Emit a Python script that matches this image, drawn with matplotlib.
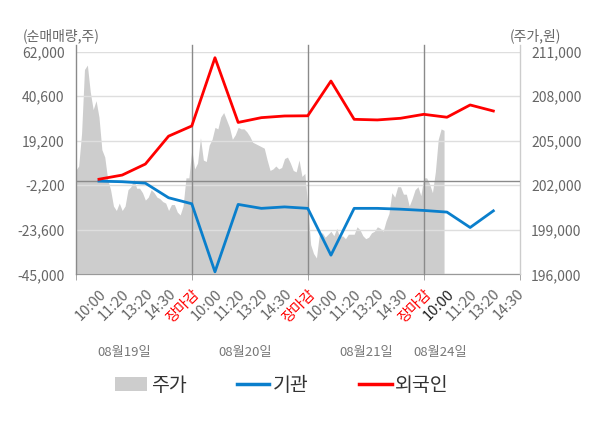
import numpy as np
import matplotlib
matplotlib.use('Agg')
from matplotlib import pyplot as plt
from matplotlib.patches import Patch
from matplotlib.lines import Line2D

plt.rcParams['font.family'] = ['Noto Sans CJK KR', 'DejaVu Sans']

# tick labels (5 slots per trading day, last day partial)
tick_labels = ['10:00', '11:20', '13:20', '14:30', '장마감',
               '10:00', '11:20', '13:20', '14:30', '장마감',
               '10:00', '11:20', '13:20', '14:30', '장마감',
               '10:00', '11:20', '13:20', '14:30']
dates = ['08월19일', '08월20일', '08월21일', '08월24일']

# net buying (shares), one point per tick slot 1..18
foreign = [700, 2700, 8000, 21400, 26300, 59100, 28000, 30300, 31100,
           31200, 47900, 29500, 29200, 30000, 31900, 30500, 36400, 33500]
inst = [-200, -500, -1200, -8200, -11100, -43800, -11400, -13300, -12600,
        -13300, -35800, -13300, -13300, -13700, -14300, -15100, -22500, -14500]

# stock price (won), 8 samples per slot
price = [203000, 203300, 205500, 209800, 210100, 208300, 207100, 207700,
         206600, 204400, 203900, 202400, 201700, 200600, 200300, 200800,
         200300, 200600, 201700, 201900, 202400, 201800, 201800, 201500,
         201000, 201200, 201700, 201500, 201200, 201100, 200900, 200800,
         200300, 200700, 200700, 200200, 200000, 200600, 202500, 202500,
         # day 2
         204400, 203100, 203500, 205200, 203700, 203600, 204700, 205100,
         205900, 205800, 206600, 206900, 206400, 205900, 205100, 205400,
         205900, 205800, 205800, 205600, 205300, 204900, 204800, 204700,
         204600, 204500, 203700, 203000, 203100, 203300, 203100, 203200,
         203800, 203900, 203500, 203000, 202900, 203700, 202600, 202800,
         # day 3
         200600, 198000, 197400, 197100, 198700, 198800, 198500, 198700,
         198900, 198600, 199100, 198500, 198600, 198400, 198700, 198700,
         198700, 199200, 199000, 198600, 198400, 198500, 198800, 198900,
         199200, 199100, 198900, 199600, 200100, 201500, 201200, 201900,
         201900, 201400, 201400, 200600, 201100, 201700, 201900, 201300,
         # day 4
         202500, 202500, 202100, 201500, 202900, 205100, 205800, 205700]

left_ticks = [-45000, -23600, -2200, 19200, 40600, 62000]
right_ticks = [196000, 199000, 202000, 205000, 208000, 211000]
date_pos = [2.1, 7.3, 12.5, 15.7]

fig = plt.figure(figsize=(6, 4.28), dpi=100)
ax = fig.add_axes([0.1263, 0.3591, 0.7404, 0.5201])
ax2 = ax.twinx()
ax.set_zorder(2)
ax2.set_zorder(1)
ax.patch.set_visible(False)
ax2.set_facecolor('#f4f4f4')

xmax = 19.15
xp = np.arange(len(price)) / 8.0
ax2.fill_between(xp, 196000, price, color='#cdcdcd', lw=0)
ax2.set_ylim(196000, 211000)
ax2.set_yticks(right_ticks)
ax2.set_yticklabels([f'{v:,}' for v in right_ticks])

xs = np.arange(1, len(foreign) + 1)
ax.plot(xs, inst, color='#0a7fcc', lw=2, zorder=5)
ax.plot(xs, foreign, color='#ff0000', lw=2, zorder=5)
ax.axhline(0, color='#8a8a8a', lw=1, zorder=4)
for b in [0, 5, 10, 15]:
    ax.axvline(b, ymax=1.03, color='#8a8a8a', lw=1, zorder=3, clip_on=False)
ax.axvline(xmax, ymax=1.03, color='#cccccc', lw=1, zorder=3, clip_on=False)

ax.set_xlim(0, xmax)
ax.set_ylim(-45000, 62000)
ax.set_yticks(left_ticks)
ax.set_yticklabels([f'{v:,}' for v in left_ticks])
ax.grid(axis='y', color='#dedede', lw=1)
ax.set_axisbelow(False)

# labels on major ticks, day boundary marks on minor ticks
ax.xaxis.remove_overlapping_locs = False
ax.set_xticks(np.arange(1, len(tick_labels) + 1))
ax.set_xticklabels(tick_labels)
ax.set_xticks([0, 5, 10, 15, xmax], minor=True)
ax.tick_params(axis='x', which='major', length=0, pad=9, labelsize=10.5)
ax.tick_params(axis='x', which='minor', length=4, color='#999999')
for i, t in enumerate(ax.get_xticklabels()):
    t.set_rotation(45)
    t.set_ha('right')
    t.set_va('top')
    t.set_rotation_mode('anchor')
    if tick_labels[i] == '장마감':
        t.set_color('#ff0000')
    elif i == 15:
        t.set_color('#222222')
    else:
        t.set_color('#666666')

for a in (ax, ax2):
    a.tick_params(axis='y', length=0, labelsize=10, labelcolor='#666666', pad=8)
    for s in ['top', 'left', 'right']:
        a.spines[s].set_visible(False)
    a.spines['bottom'].set_color('#999999')

for d, p in zip(dates, date_pos):
    ax.text(p, -0.35, d, transform=ax.get_xaxis_transform(), ha='center',
            va='center', fontsize=9.5, color='#777777')

fig.text(0.038, 0.917, '(순매매량,주)', fontsize=10, color='#666666', va='center')
fig.text(0.85, 0.917, '(주가,원)', fontsize=10, color='#666666', va='center')

handles = [Patch(color='#cdcdcd', lw=0),
           Line2D([], [], color='#0a7fcc', lw=2.5),
           Line2D([], [], color='#ff0000', lw=2.5)]
fig.legend(handles, ['주가', '기관', '외국인'], loc='center',
           bbox_to_anchor=(0.47, 0.1), ncol=3, frameon=False,
           fontsize=14, handlelength=1.65, handletextpad=0.2,
           columnspacing=2.6, labelcolor='#333333')

fig.savefig('out.png', dpi=100)
